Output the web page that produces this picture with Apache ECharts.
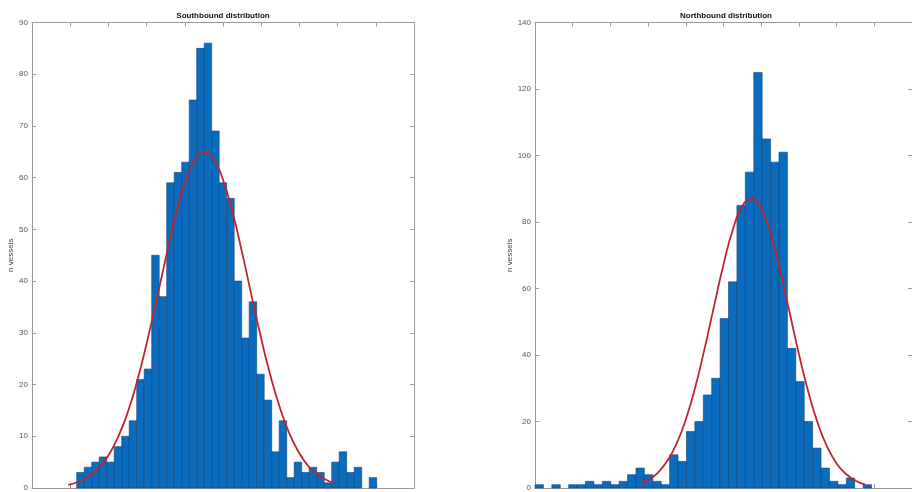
<!DOCTYPE html>
<html>
<head>
<meta charset="utf-8">
<script src="https://cdn.jsdelivr.net/npm/echarts@6/dist/echarts.min.js"></script>
<style>
html,body{margin:0;padding:0;background:#fff;}
#chart{width:912px;height:492px;}
</style>
</head>
<body>
<div id="chart"></div>
<script>
// ---- Data (x in arbitrary axis units; tick labels are cropped in the reference) ----
const titles = ["Southbound distribution", "Northbound distribution"];
const yLabel = "n vessels";

// Southbound histogram
const southBinStart = 1.170;
const southBinWidth = 0.19634;
const southCounts = [3,4,5,6,5,8,10,13,21,23,45,37,59,61,63,75,85,86,69,59,56,40,29,36,22,17,7,13,2,5,3,4,3,1,5,7,3,4,0,2];
// Southbound fitted curve
const southCurveX = [0.95,1.25,1.5,1.75,2.0,2.25,2.5,2.75,3.0,3.25,3.5,3.75,4.0,4.25,4.5,4.75,5.0,5.25,5.5,5.75,6.0,6.25,6.5,6.75,7.0,7.25,7.5,7.75,7.95];
const southCurveY = [0.6,1.3,2.3,3.9,6.3,9.8,14.5,20.6,27.9,36.0,44.4,52.4,58.9,63.3,65.0,63.7,59.6,53.3,45.5,37.1,28.9,21.5,15.3,10.3,6.7,4.1,2.5,1.4,0.8];

// Northbound histogram
const northBinStart = 0.0;
const northBinWidth = 0.22317;
const northCounts = [1,0,1,0,1,1,2,1,2,1,2,4,6,4,2,1,10,8,17,20,28,33,51,62,85,95,125,105,98,101,42,32,20,12,6,2,1,3,0,1];
const northCurveX = [2.8,3.0,3.25,3.5,3.75,4.0,4.25,4.5,4.75,5.0,5.25,5.5,5.75,6.0,6.25,6.5,6.75,7.0,7.25,7.5,7.75,8.0,8.25,8.5,8.75];
const northCurveY = [1.4,2.4,4.5,8.0,13.2,20.6,30.3,42.0,54.7,67.2,77.8,84.8,87.0,84.1,76.5,65.6,53.0,40.3,28.9,19.5,12.4,7.4,4.2,2.2,1.1];

// y-axis ranges
const southYMax = 90, southYStep = 10;
const northYMax = 140, northYStep = 20;
const xMin = 0, xMax = 10, xStep = 1;

// ---- Styles ----
const FONT = "Liberation Sans, Arial, Helvetica, sans-serif";
const boxColor = "#9c9c9c";
const barFill = "#0a6cbf";
const barStroke = "#17436e";
const curveColor = "#c0252d";

function binData(start, width, counts) {
  const out = [];
  counts.forEach((c, i) => { if (c > 0) out.push([start + i * width, start + (i + 1) * width, c]); });
  return out;
}
function zip(xs, ys) { return xs.map((x, i) => [x, ys[i]]); }

const grids = [
  {left: 32, top: 22.5, width: 382, height: 469},
  {left: 535, top: 22.5, width: 382, height: 469}
];

function xAxes(gi) {
  const base = {
    type: 'value', gridIndex: gi, min: xMin, max: xMax, interval: xStep,
    axisLine: {show: true, onZero: false, lineStyle: {color: boxColor, width: 1}},
    axisTick: {show: true, inside: true, length: 4, lineStyle: {color: boxColor}},
    axisLabel: {show: false}, splitLine: {show: false}
  };
  return [Object.assign({position: 'bottom'}, base), Object.assign({position: 'top'}, base)];
}
function yAxes(gi, max, step) {
  const base = {
    type: 'value', gridIndex: gi, min: 0, max: max, interval: step,
    axisLine: {show: true, onZero: false, lineStyle: {color: boxColor, width: 1}},
    axisTick: {show: true, inside: true, length: 4, lineStyle: {color: boxColor}},
    splitLine: {show: false}
  };
  return [
    Object.assign({}, base, {
      position: 'left', name: yLabel, nameLocation: 'middle', nameGap: 13,
      nameTextStyle: {fontFamily: FONT, fontSize: 8, color: '#444'},
      axisLabel: {show: true, margin: 4, fontFamily: FONT, fontSize: 8, color: '#555'}
    }),
    Object.assign({}, base, {position: 'right', axisLabel: {show: false}})
  ];
}

function histSeries(xi, yi, data) {
  return {
    type: 'custom', xAxisIndex: xi, yAxisIndex: yi, data: data,
    encode: {x: [0, 1], y: 2},
    renderItem: function (params, api) {
      const p0 = api.coord([api.value(0), api.value(2)]);
      const p1 = api.coord([api.value(1), 0]);
      return {
        type: 'rect',
        shape: {x: p0[0], y: p0[1], width: p1[0] - p0[0], height: p1[1] - p0[1]},
        style: {fill: barFill, stroke: barStroke, lineWidth: 0.6}
      };
    },
    z: 2, silent: true
  };
}
function curveSeries(xi, yi, data) {
  return {
    type: 'line', xAxisIndex: xi, yAxisIndex: yi, data: data, smooth: true,
    showSymbol: false, symbol: 'none', lineStyle: {color: curveColor, width: 1.8}, z: 3, silent: true
  };
}

const xa = xAxes(0).concat(xAxes(1));
const ya = yAxes(0, southYMax, southYStep).concat(yAxes(1, northYMax, northYStep));

const option = {
  animation: false,
  backgroundColor: '#fff',
  grid: grids,
  xAxis: xa,
  yAxis: ya,
  graphic: [
    {type: 'text', x: 223, y: 16, style: {text: titles[0], font: 'bold 8px ' + FONT, fill: '#111', align: 'center', verticalAlign: 'middle'}},
    {type: 'text', x: 726, y: 16, style: {text: titles[1], font: 'bold 8px ' + FONT, fill: '#111', align: 'center', verticalAlign: 'middle'}}
  ],
  series: [
    histSeries(0, 0, binData(southBinStart, southBinWidth, southCounts)),
    curveSeries(0, 0, zip(southCurveX, southCurveY)),
    histSeries(2, 2, binData(northBinStart, northBinWidth, northCounts)),
    curveSeries(2, 2, zip(northCurveX, northCurveY))
  ]
};

const chart = echarts.init(document.getElementById('chart'), null, {renderer: 'canvas'});
chart.setOption(option);
</script>
</body>
</html>
